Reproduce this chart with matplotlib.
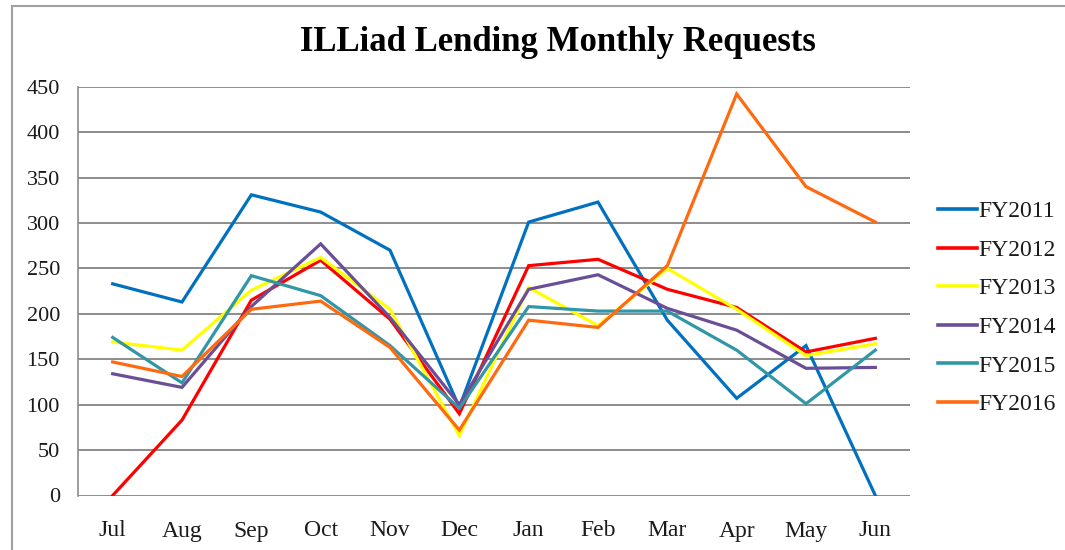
import matplotlib.pyplot as plt
from matplotlib.lines import Line2D

months = ["Jul", "Aug", "Sep", "Oct", "Nov", "Dec", "Jan", "Feb", "Mar", "Apr", "May", "Jun"]

fy2011 = [233, 213, 331, 312, 270, 97, 301, 323, 193, 107, 165, 0]
fy2012 = [0, 83, 215, 259, 194, 90, 253, 260, 227, 207, 158, 173]
fy2013 = [169, 160, 226, 262, 205, 66, 229, 187, 250, 205, 154, 167]
fy2014 = [134, 119, 208, 277, 196, 100, 227, 243, 206, 182, 140, 141]
fy2015 = [174, 124, 242, 220, 165, 96, 208, 203, 203, 160, 101, 160]
fy2016 = [147, 131, 205, 214, 163, 72, 193, 185, 253, 442, 340, 301]

series = [
    ("FY2011", fy2011, "#0070C0"),
    ("FY2012", fy2012, "#FF0000"),
    ("FY2013", fy2013, "#FFFF00"),
    ("FY2014", fy2014, "#6A4E96"),
    ("FY2015", fy2015, "#3196A6"),
    ("FY2016", fy2016, "#FF6A10"),
]

serif = ["Liberation Serif", "DejaVu Serif"]

fig = plt.figure(figsize=(10.65, 5.5), dpi=100)
ax = fig.add_axes([78 / 1065, 1 - 495.5 / 550, (910 - 78) / 1065, (495.5 - 86.7) / 550])

x = list(range(len(months)))
for name, vals, col in series:
    ax.plot(x, vals, color=col, linewidth=2.3, label=name, solid_joinstyle="miter")

ax.set_xlim(-0.5, 11.5)
ax.set_ylim(0, 450)
ax.set_yticks(range(0, 451, 50))
ax.set_xticks(x)
ax.set_xticklabels(months)
ax.grid(axis="y", color="#8c8c8c", linewidth=1.4)
ax.set_axisbelow(True)
for s in ["top", "right", "bottom"]:
    ax.spines[s].set_visible(False)
ax.spines["left"].set_color("#8c8c8c")
ax.spines["left"].set_linewidth(1.2)
ax.tick_params(length=0)
ax.tick_params(axis="x", pad=18, labelsize=17)
ax.tick_params(axis="y", pad=13, labelsize=16)
for lab in ax.get_xticklabels() + ax.get_yticklabels():
    lab.set_family(serif)
    lab.set_color("#1a1a1a")

fig.text(0.524, 0.922, "ILLiad Lending Monthly Requests", ha="center", va="center",
         fontsize=25, fontweight="bold", family=serif)

handles = [Line2D([0], [0], color=c, linewidth=2.6) for _, _, c in series]
leg = fig.legend(handles, [n for n, _, _ in series], loc="center left",
                 bbox_to_anchor=(0.861, 0.44), frameon=False,
                 prop={"family": serif, "size": 17}, handlelength=1.65,
                 handletextpad=0.05, labelspacing=0.72)
for t in leg.get_texts():
    t.set_color("#1a1a1a")

# outer chart frame
fig.add_artist(Line2D([12 / 1065, 1], [1 - 6 / 550, 1 - 6 / 550], color="#a0a0a0", linewidth=1.5))
fig.add_artist(Line2D([12 / 1065, 12 / 1065], [0, 1 - 6 / 550], color="#a0a0a0", linewidth=1.5))

fig.savefig("out.png", dpi=100)
